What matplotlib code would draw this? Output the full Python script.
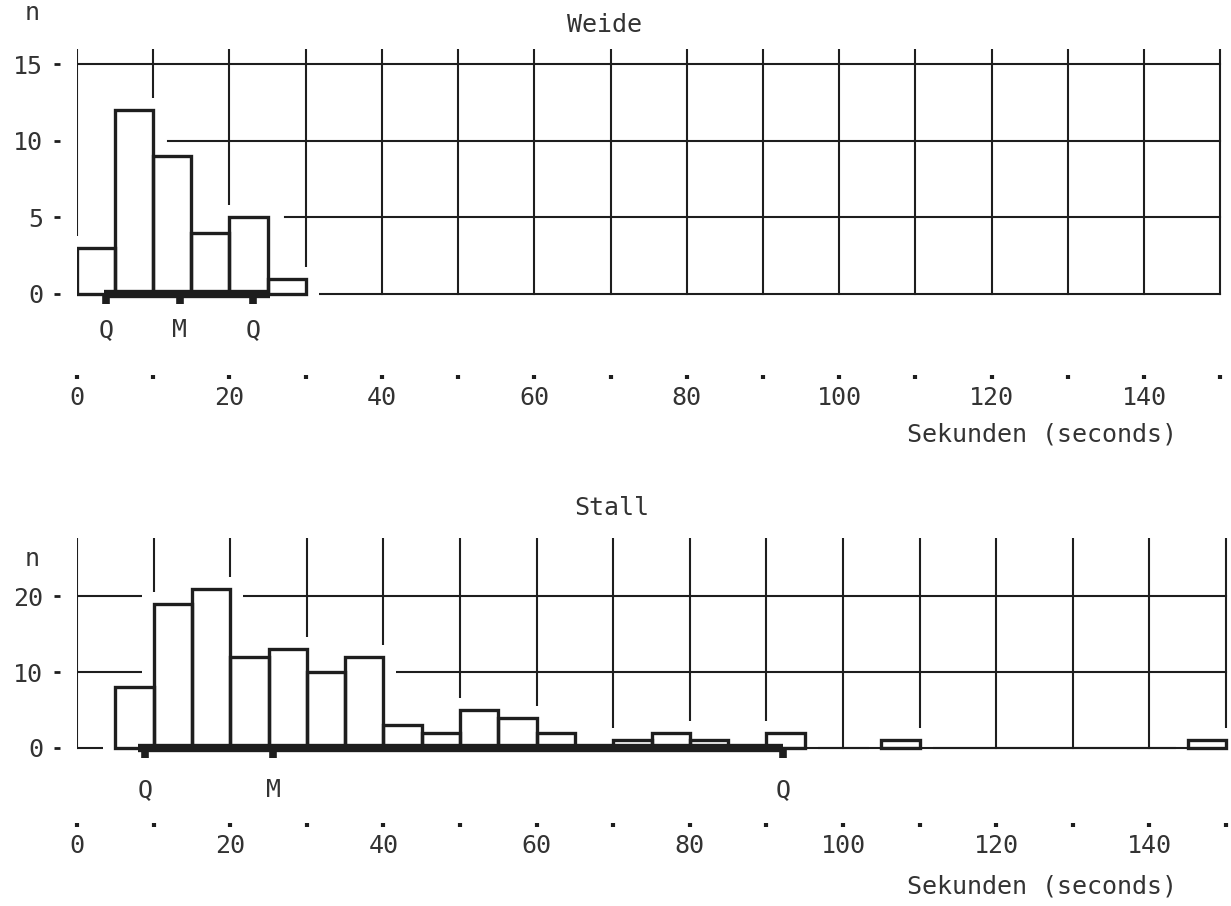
import matplotlib.pyplot as plt
import numpy as np

# Histogram of durations (seconds), 5 s bins, two situations.
bin_width = 5
bin_starts = np.arange(0, 150, bin_width)

weide_counts = [3, 12, 9, 4, 5, 1, 0, 0, 0, 0,
                0, 0, 0, 0, 0, 0, 0, 0, 0, 0,
                0, 0, 0, 0, 0, 0, 0, 0, 0, 0]
stall_counts = [0, 8, 19, 21, 12, 13, 10, 12, 3, 2,
                5, 4, 2, 0, 1, 2, 1, 0, 2, 0,
                0, 1, 0, 0, 0, 0, 0, 0, 0, 1]

# quartile / median markers (seconds) and extent of the thick bar
quartile_labels = ["Q", "M", "Q"]
weide_quartiles = [3.8, 13.5, 23.1]
stall_quartiles = [8.9, 25.6, 92.2]
weide_box = (3.5, 25.3)
stall_box = (8.0, 92.2)

weide_yticks = [0, 5, 10, 15]
stall_yticks = [0, 10, 20]
x_labelled = [0, 20, 40, 60, 80, 100, 120, 140]
x_dots = [10, 30, 50, 70, 90, 110, 130, 150]

INK = "#1e1e1e"
TEXT = "#333333"

plt.rcParams["font.family"] = ["DejaVu Sans Mono"]
plt.rcParams["font.size"] = 18


def draw_panel(ax, counts, quartiles, box, yticks, title, xmax, ytop,
               title_xy, xlabel_xy, n_y, label_drop, tick_drop,
               line_starts=None, baseline_from=None):
    counts = np.asarray(counts)
    keep = counts > 0
    starts = bin_starts[keep]
    heights = counts[keep]
    line_starts = line_starts or {}

    ax.set_xlim(0, xmax)
    ax.set_ylim(-yticks[1] / 5.0, ytop)

    # grid (interrupted around bars by a white halo below)
    for xv in x_labelled + x_dots:
        ax.plot([xv, xv], [0, ytop], color=INK, lw=1.5, zorder=1)
    for yv in yticks:
        ax.plot([line_starts.get(yv, 0), 150], [yv, yv], color=INK, lw=1.5, zorder=1)

    ax.bar(starts, heights, width=bin_width, align="edge", color="white",
           edgecolor="white", lw=18, zorder=2)
    if baseline_from is not None:
        ax.plot([baseline_from, 145], [0, 0], color=INK, lw=1.5, zorder=2.5)
    ax.bar(starts, heights, width=bin_width, align="edge", facecolor="none",
           edgecolor=INK, lw=2.4, zorder=3)

    # quartile bar
    ax.plot(box, [0, 0], color=INK, lw=6, solid_capstyle="butt", zorder=4)
    ax.plot(quartiles, [0] * len(quartiles), ls="none", marker=3, ms=7,
            mew=5.5, color=INK, zorder=4, clip_on=False)
    for q, lab in zip(quartiles, quartile_labels):
        ax.annotate(lab, xy=(q, 0), xytext=(0, -label_drop), textcoords="offset points",
                    ha="center", va="center", color=TEXT, annotation_clip=False)

    # axes / ticks
    for side in ["top", "right", "left", "bottom"]:
        ax.spines[side].set_visible(False)
    ax.spines["left"].set_position(("outward", 12))
    ax.spines["bottom"].set_position(("outward", tick_drop))
    ax.set_yticks(yticks)
    ax.set_xticks(x_labelled)
    ax.set_xticks(x_dots, minor=True)
    ax.tick_params(axis="y", direction="out", length=4.5, width=2, pad=8,
                   color=INK, labelcolor=TEXT)
    ax.tick_params(axis="x", which="both", direction="out", length=3.2, width=3,
                   pad=5, color=INK, labelcolor=TEXT)

    ax.annotate("n", xy=(0, n_y), xytext=(-32, 0), textcoords="offset points",
                ha="center", va="center", color=TEXT, annotation_clip=False)
    ax.text(title_xy[0], title_xy[1], title, transform=ax.transAxes,
            ha="center", va="center", color=TEXT)
    ax.text(xlabel_xy[0], xlabel_xy[1], "Sekunden (seconds)", transform=ax.transAxes,
            ha="center", va="center", color=TEXT)


fig = plt.figure(figsize=(12.31, 9.06), dpi=100)
ax_top = fig.add_axes([0.06255, 0.6586, 0.93745, 0.2876])
ax_bot = fig.add_axes([0.06255, 0.1578, 0.93745, 0.2483])

draw_panel(ax_top, weide_counts, weide_quartiles, weide_box, weide_yticks, "Weide",
           xmax=151.4, ytop=16, title_xy=(0.4575, 1.091), xlabel_xy=(0.836, -0.482),
           n_y=18.3, label_drop=26, tick_drop=47, line_starts={5: 27.3, 10: 11.9})
draw_panel(ax_bot, stall_counts, stall_quartiles, stall_box, stall_yticks, "Stall",
           xmax=150.65, ytop=27.7, title_xy=(0.4636, 1.133), xlabel_xy=(0.836, -0.551),
           n_y=25, label_drop=30, tick_drop=43, baseline_from=92.2)

fig.savefig("out.png", dpi=100)
